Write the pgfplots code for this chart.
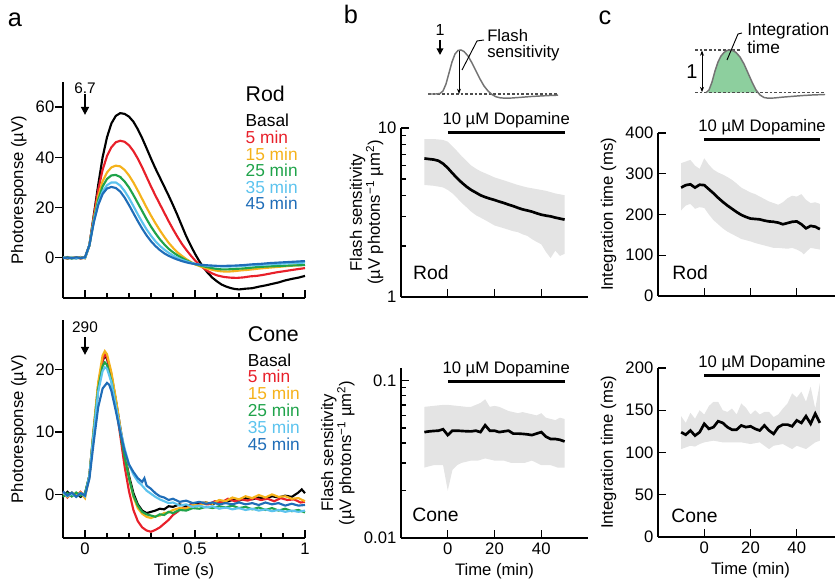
\documentclass[border=0pt]{standalone}
\usepackage{fontspec}
\setmainfont{Liberation Sans}
\usepackage{pgfplots}
\pgfplotsset{compat=1.18}
\usepgfplotslibrary{fillbetween}
\usetikzlibrary{arrows.meta}

\definecolor{cRed}{HTML}{E8202A}
\definecolor{cYel}{HTML}{F5B21B}
\definecolor{cGrn}{HTML}{1FA34A}
\definecolor{cLbl}{HTML}{5CC3EE}
\definecolor{cBlu}{HTML}{1F6DB8}
\definecolor{band}{HTML}{E4E4E4}
\definecolor{fillgrn}{HTML}{8DCF9E}

\pgfplotsset{
  panel/.style={
    scale only axis, anchor=south west, axis lines*=left, clip=false,
    axis line style={line width=1.1pt},
    tick style={line width=1pt, black},
    tick align=inside, major tick length=6pt, minor tick length=3.5pt,
    tick label style={font=\fontsize{12.5}{14}\selectfont},
    label style={font=\fontsize{12.5}{13.5}\selectfont},
    /pgf/number format/assume math mode=true,
  },
  trace/.style={line width=1.6pt},
  mean/.style={line width=2pt, black},
}
\newcommand{\dopa}[2]{%
  \draw[line width=2.2pt] (axis cs:0,#1) -- (axis cs:50,#1);
  \node[anchor=base, inner sep=0pt, yshift=#2, font=\fontsize{12.5}{14}\selectfont]
    at (axis cs:25,#1) {10 µM Dopamine};}
\newcommand{\tag}[3]{\node[anchor=west, inner sep=0pt, font=\fontsize{14.5}{16}\selectfont]
    at (rel axis cs:#1,#2) {#3};}

\begin{document}
\begin{tikzpicture}

% ---------- a, rod
\begin{axis}[panel, at={(47.25pt,211.5pt)}, width=181.5pt, height=162pt,
  xmin=-0.1, xmax=1, ymin=-16, ymax=70,
  xtick={0,0.5,1}, minor xtick={0.1,0.2,0.3,0.4,0.6,0.7,0.8,0.9}, xticklabels={},
  ytick={0,20,40,60}, ytick style={xshift=-6pt}, yticklabel style={xshift=-3pt},
  ylabel={Photoresponse (µV)}]
\addplot[trace, black] coordinates {(-0.1,0.2)(-0.08,-0.3)(-0.06,0.1)(-0.04,-0.2)(-0.02,0.3)(0,-0.1)(0.02,5)(0.04,17)(0.06,29)(0.08,40)(0.10,48)(0.12,53.5)(0.14,56.5)(0.16,57.6)(0.18,57.3)(0.20,56.2)(0.22,54.2)(0.24,51.2)(0.26,47.6)(0.28,43.6)(0.30,39.5)(0.32,35.6)(0.34,32)(0.36,28.4)(0.38,24.8)(0.40,21)(0.42,17)(0.44,12.8)(0.46,8.6)(0.48,5)(0.50,1.6)(0.52,-1.4)(0.54,-4)(0.56,-6.2)(0.58,-8)(0.60,-9.4)(0.62,-10.6)(0.64,-11.4)(0.66,-12)(0.68,-12.4)(0.70,-12.6)(0.73,-12.3)(0.76,-12.1)(0.79,-11.5)(0.82,-11)(0.85,-10.4)(0.88,-9.8)(0.91,-9)(0.94,-8.4)(0.97,-7.9)(1.0,-7.2)};
\addplot[trace, cRed] coordinates {(-0.1,-0.2)(-0.08,0.3)(-0.06,-0.1)(-0.04,0.2)(-0.02,-0.3)(0,0.1)(0.02,5)(0.04,16.5)(0.06,27)(0.08,35)(0.10,40.5)(0.12,44)(0.14,46)(0.16,46.6)(0.18,46.2)(0.20,44.8)(0.22,42.5)(0.24,39.5)(0.26,36)(0.28,32.2)(0.30,28.4)(0.32,24.8)(0.34,21.4)(0.36,18)(0.38,14.6)(0.40,11.4)(0.42,8.4)(0.44,5.6)(0.46,3.2)(0.48,1)(0.50,-1)(0.52,-2.8)(0.54,-4.2)(0.56,-5.4)(0.58,-6.3)(0.60,-7)(0.63,-7.6)(0.66,-7.9)(0.69,-8)(0.72,-7.8)(0.75,-7.4)(0.78,-7.2)(0.81,-6.8)(0.84,-6.3)(0.87,-5.8)(0.90,-5.4)(0.93,-5)(0.96,-4.6)(1.0,-4.1)};
\addplot[trace, cYel] coordinates {(-0.1,0.1)(-0.08,-0.2)(-0.06,0.3)(-0.04,-0.1)(-0.02,0.2)(0,-0.2)(0.02,5)(0.04,15.5)(0.06,24.5)(0.08,30.5)(0.10,34)(0.12,36)(0.14,36.7)(0.16,36.4)(0.18,35)(0.20,32.8)(0.22,30)(0.24,26.8)(0.26,23.4)(0.28,20)(0.30,16.8)(0.32,13.8)(0.34,11)(0.36,8.4)(0.38,6)(0.40,4)(0.42,2.2)(0.44,0.8)(0.46,-0.5)(0.48,-1.6)(0.50,-2.6)(0.53,-3.6)(0.56,-4.4)(0.59,-5)(0.62,-5.4)(0.65,-5.5)(0.68,-5.3)(0.71,-5)(0.74,-4.8)(0.77,-4.5)(0.80,-4.2)(0.84,-3.9)(0.88,-3.6)(0.92,-3.3)(0.96,-3)(1.0,-2.8)};
\addplot[trace, cGrn] coordinates {(-0.1,-0.1)(-0.08,0.2)(-0.06,-0.3)(-0.04,0.1)(-0.02,-0.2)(0,0.1)(0.02,5)(0.04,15)(0.06,23)(0.08,28.4)(0.10,31.4)(0.12,32.8)(0.14,33)(0.16,32.2)(0.18,30.4)(0.20,28)(0.22,25)(0.24,21.8)(0.26,18.6)(0.28,15.4)(0.30,12.4)(0.32,9.8)(0.34,7.4)(0.36,5.4)(0.38,3.6)(0.40,2.2)(0.42,1)(0.44,0)(0.46,-1)(0.48,-1.8)(0.50,-2.5)(0.53,-3.2)(0.56,-3.8)(0.59,-4.3)(0.62,-4.6)(0.65,-4.6)(0.68,-4.4)(0.71,-4.3)(0.74,-4.1)(0.77,-3.8)(0.80,-3.6)(0.84,-3.4)(0.88,-3.3)(0.92,-3.1)(0.96,-3)(1.0,-2.9)};
\addplot[trace, cLbl] coordinates {(-0.1,0.2)(-0.08,-0.1)(-0.06,0.2)(-0.04,-0.3)(-0.02,0.1)(0,-0.1)(0.02,5)(0.04,14.5)(0.06,21.8)(0.08,26.4)(0.10,28.9)(0.12,30)(0.14,30)(0.16,28.8)(0.18,26.6)(0.20,23.8)(0.22,20.6)(0.24,17.3)(0.26,14.2)(0.28,11.3)(0.30,8.8)(0.32,6.6)(0.34,4.8)(0.36,3.3)(0.38,2)(0.40,0.9)(0.42,0)(0.44,-0.8)(0.46,-1.4)(0.48,-2)(0.50,-2.4)(0.53,-2.9)(0.56,-3.2)(0.60,-3.4)(0.64,-3.5)(0.68,-3.4)(0.72,-3.2)(0.76,-3)(0.80,-2.8)(0.84,-2.6)(0.88,-2.4)(0.92,-2.2)(0.96,-2.1)(1.0,-1.9)};
\addplot[trace, cBlu] coordinates {(-0.1,-0.2)(-0.08,0.1)(-0.06,-0.2)(-0.04,0.2)(-0.02,-0.1)(0,0.2)(0.02,5)(0.04,14)(0.06,21)(0.08,25.4)(0.10,27.6)(0.12,28.2)(0.14,27.8)(0.16,26.4)(0.18,24)(0.20,21)(0.22,17.8)(0.24,14.6)(0.26,11.6)(0.28,8.9)(0.30,6.6)(0.32,4.7)(0.34,3.1)(0.36,1.8)(0.38,0.8)(0.40,0)(0.42,-0.7)(0.44,-1.3)(0.46,-1.8)(0.48,-2.2)(0.50,-2.5)(0.53,-2.8)(0.56,-3)(0.60,-3.2)(0.64,-3.2)(0.68,-3.1)(0.72,-2.9)(0.76,-2.6)(0.80,-2.4)(0.84,-2.1)(0.88,-1.9)(0.92,-1.7)(0.96,-1.5)(1.0,-1.3)};
\draw[-{Triangle[length=6pt,width=6pt]}, line width=1.2pt] (axis cs:0,65.2) -- (axis cs:0,56.9);
\node[inner sep=0pt, font=\fontsize{11.5}{12}\selectfont] at (axis cs:0,67.4) {6.7};
\node[anchor=west, inner sep=0pt, font=\fontsize{16}{18}\selectfont] at (axis cs:0.729,65.4) {Rod};
\begin{scope}[every node/.style={anchor=west, inner sep=0pt, font=\fontsize{13}{14}\selectfont}]
\node[black] at (axis cs:0.729,54.6) {Basal};
\node[cRed] at (axis cs:0.729,48.0) {5 min};
\node[cYel] at (axis cs:0.729,41.4) {15 min};
\node[cGrn] at (axis cs:0.729,34.8) {25 min};
\node[cLbl] at (axis cs:0.729,28.2) {35 min};
\node[cBlu] at (axis cs:0.729,21.6) {45 min};
\end{scope}
\end{axis}

% ---------- a, cone
\begin{axis}[panel, at={(47.25pt,31.5pt)}, width=181.5pt, height=163.5pt,
  xmin=-0.1, xmax=1, ymin=-7, ymax=28,
  xtick={0,0.5,1}, minor xtick={0.1,0.2,0.3,0.4,0.6,0.7,0.8,0.9},
  ytick={0,10,20}, ytick style={xshift=-6pt}, yticklabel style={xshift=-3pt},
  xlabel={Time (s)}, ylabel={Photoresponse (µV)}]
\addplot[trace, black] coordinates {(-0.1,-0.3)(-0.08,0.4)(-0.06,-0.3)(-0.04,0.2)(-0.02,-0.4)(0,0.1)(0.02,3)(0.04,10.5)(0.06,17.5)(0.08,21.5)(0.09,22.2)(0.10,21.8)(0.12,19.2)(0.14,15.2)(0.16,10.8)(0.18,6.6)(0.20,3)(0.22,0.2)(0.24,-1.6)(0.26,-2.6)(0.28,-3)(0.30,-2.8)(0.32,-2.6)(0.34,-2.3)(0.36,-2.4)(0.38,-1.9)(0.40,-2)(0.43,-1.6)(0.46,-1.9)(0.49,-1.5)(0.52,-1.4)(0.55,-1.3)(0.58,-1.6)(0.61,-1.0)(0.64,-1.2)(0.67,-0.9)(0.70,-1.0)(0.73,-0.6)(0.76,-0.8)(0.79,-0.5)(0.82,-0.7)(0.85,-0.3)(0.88,-0.5)(0.91,-0.2)(0.94,-0.4)(0.97,0.3)(0.985,0.8)(1.0,0.2)};
\addplot[trace, cRed] coordinates {(-0.1,0.4)(-0.08,-0.5)(-0.06,0.2)(-0.04,-0.3)(-0.02,0.4)(0,-0.3)(0.02,3)(0.04,10)(0.06,17)(0.08,21.5)(0.09,22.5)(0.10,22)(0.12,19)(0.14,14.5)(0.16,9.5)(0.18,4.5)(0.20,0.5)(0.22,-2.5)(0.24,-4.3)(0.26,-5.3)(0.28,-5.8)(0.30,-6)(0.32,-5.7)(0.34,-5.3)(0.36,-4.7)(0.38,-4.1)(0.40,-3.3)(0.42,-2.8)(0.44,-2.2)(0.46,-2.3)(0.48,-1.7)(0.50,-1.9)(0.53,-1.5)(0.56,-1.6)(0.59,-1.1)(0.62,-1.3)(0.65,-0.7)(0.68,-1.1)(0.71,-0.8)(0.74,-1.0)(0.77,-0.6)(0.80,-0.9)(0.83,-0.7)(0.86,-1.1)(0.89,-0.6)(0.92,-0.9)(0.95,-0.8)(0.98,-1.3)(1.0,-1.2)};
\addplot[trace, cYel] coordinates {(-0.1,0.2)(-0.08,-0.4)(-0.06,0.3)(-0.04,-0.2)(-0.02,0.3)(0,-0.6)(0.02,3)(0.04,10.8)(0.06,18)(0.08,22.3)(0.09,23)(0.10,22.5)(0.12,19.6)(0.14,15.4)(0.16,10.8)(0.18,6.4)(0.20,2.6)(0.22,-0.4)(0.24,-2.2)(0.26,-3.1)(0.28,-3.6)(0.30,-3.8)(0.32,-3.5)(0.34,-3.4)(0.36,-3.0)(0.38,-2.9)(0.40,-2.5)(0.43,-2.2)(0.46,-2.3)(0.49,-1.7)(0.52,-1.8)(0.55,-1.3)(0.58,-1.5)(0.61,-0.9)(0.64,-1.1)(0.67,-0.5)(0.70,-0.8)(0.73,-0.3)(0.76,-0.6)(0.79,-0.1)(0.82,-0.5)(0.85,0)(0.88,-0.4)(0.91,-0.3)(0.94,-0.7)(0.97,-0.6)(1.0,-1.1)};
\addplot[trace, cGrn] coordinates {(-0.1,-0.4)(-0.08,0.2)(-0.06,-0.3)(-0.04,0.3)(-0.02,-0.2)(0,0.2)(0.02,3)(0.04,10.2)(0.06,17)(0.08,20.6)(0.09,21.2)(0.10,20.8)(0.12,18.2)(0.14,14.2)(0.16,10)(0.18,6)(0.20,2.6)(0.22,-0.2)(0.24,-1.8)(0.26,-2.8)(0.28,-3.2)(0.30,-3.4)(0.32,-3.6)(0.34,-3.2)(0.36,-3.3)(0.38,-2.8)(0.40,-3)(0.43,-2.5)(0.46,-2.6)(0.49,-2.2)(0.52,-2.3)(0.55,-2.0)(0.58,-2.2)(0.61,-1.9)(0.64,-2.1)(0.67,-1.8)(0.70,-2.2)(0.73,-2.0)(0.76,-2.4)(0.79,-2.1)(0.82,-2.5)(0.85,-2.2)(0.88,-2.6)(0.91,-2.3)(0.94,-2.7)(0.97,-2.5)(1.0,-2.9)};
\addplot[trace, cLbl] coordinates {(-0.1,0.3)(-0.08,-0.3)(-0.06,0.1)(-0.04,-0.4)(-0.02,0.2)(0,-0.3)(0.02,3)(0.04,10)(0.06,16.5)(0.08,19.8)(0.09,20.4)(0.10,20.2)(0.12,18)(0.14,14.2)(0.16,10.5)(0.18,7.4)(0.20,4.8)(0.22,3.2)(0.24,2.1)(0.26,1.4)(0.28,0.6)(0.30,0.1)(0.32,-0.4)(0.34,-0.8)(0.36,-1.1)(0.38,-1.4)(0.40,-1.3)(0.43,-1.8)(0.46,-1.6)(0.49,-2)(0.52,-1.8)(0.55,-2.1)(0.58,-1.9)(0.61,-2.3)(0.64,-2.1)(0.67,-2.4)(0.70,-2.2)(0.73,-2.5)(0.76,-2.3)(0.79,-2.6)(0.82,-2.4)(0.85,-2.7)(0.88,-2.5)(0.91,-2.8)(0.94,-2.6)(0.97,-2.8)(1.0,-2.6)};
\addplot[trace, cBlu] coordinates {(-0.1,0.5)(-0.08,-0.2)(-0.06,0.3)(-0.04,-0.4)(-0.02,0.2)(0,-0.2)(0.02,2.5)(0.04,8.5)(0.06,14)(0.08,17)(0.10,17.9)(0.11,17.6)(0.12,16.6)(0.14,13.4)(0.16,10)(0.18,7)(0.20,4.8)(0.22,3.6)(0.24,2.6)(0.26,2)(0.27,2.6)(0.28,1.4)(0.30,0.9)(0.32,0.2)(0.34,-0.3)(0.36,-0.5)(0.38,-0.9)(0.40,-0.7)(0.43,-1.2)(0.46,-1.0)(0.49,-1.4)(0.52,-1.2)(0.55,-1.5)(0.58,-1.3)(0.61,-1.6)(0.64,-1.4)(0.67,-1.6)(0.70,-1.3)(0.73,-1.6)(0.76,-1.4)(0.79,-1.7)(0.82,-1.3)(0.85,-1.6)(0.88,-1.4)(0.91,-1.8)(0.94,-1.5)(0.97,-1.8)(1.0,-1.7)};
\draw[-{Triangle[length=6pt,width=6pt]}, line width=1.2pt] (axis cs:0,25.2) -- (axis cs:0,22.4);
\node[inner sep=0pt, font=\fontsize{11.5}{12}\selectfont] at (axis cs:0,26.9) {290};
\node[anchor=west, inner sep=0pt, font=\fontsize{16}{18}\selectfont] at (axis cs:0.739,25.8) {Cone};
\begin{scope}[every node/.style={anchor=west, inner sep=0pt, font=\fontsize{13}{14}\selectfont}]
\node[black] at (axis cs:0.739,21.6) {Basal};
\node[cRed] at (axis cs:0.739,18.9) {5 min};
\node[cYel] at (axis cs:0.739,16.2) {15 min};
\node[cGrn] at (axis cs:0.739,13.5) {25 min};
\node[cLbl] at (axis cs:0.739,10.8) {35 min};
\node[cBlu] at (axis cs:0.739,8.1) {45 min};
\end{scope}
\end{axis}

% ---------- b, rod
\begin{axis}[panel, ymode=log, at={(300.75pt,212.25pt)}, width=140.25pt, height=126.75pt,
  xmin=-20, xmax=60, ymin=1, ymax=10,
  xtick={0,20,40}, xticklabels={},
  ytick={1,10}, yticklabels={1,10}, minor ytick={2,3,4,5,6,7,8,9},
  ylabel style={align=center}, ylabel shift=-11pt,
  ylabel={Flash sensitivity\\(µV photons\textsuperscript{−1} µm\textsuperscript{2})}]
\addplot[name path=bru, draw=none] coordinates {(-10,8.6)(-6,8.6)(-2,8.5)(0,8.3)(2,7.8)(4,7.3)(6,6.8)(8,6.4)(10,6.0)(12,5.75)(14,5.55)(16,5.4)(18,5.25)(20,5.1)(23,4.95)(26,4.8)(30,4.6)(34,4.45)(38,4.35)(42,4.25)(46,4.1)(50,4.0)};
\addplot[name path=brl, draw=none] coordinates {(-10,4.6)(-6,4.55)(-2,4.45)(0,4.3)(2,4.1)(4,3.85)(6,3.6)(8,3.4)(10,3.2)(12,3.05)(14,2.95)(16,2.85)(18,2.75)(20,2.65)(22,2.6)(24,2.55)(26,2.5)(28,2.45)(30,2.42)(32,2.35)(34,2.3)(36,2.2)(38,2.12)(40,2.05)(42,1.85)(44,1.7)(46,1.88)(48,1.75)(50,1.8)};
\addplot[band] fill between[of=bru and brl];
\addplot[mean] coordinates {(-10,6.6)(-8,6.55)(-6,6.5)(-4,6.4)(-2,6.15)(0,5.8)(2,5.4)(4,5.05)(6,4.75)(8,4.5)(10,4.3)(12,4.15)(14,4.0)(16,3.9)(18,3.82)(20,3.75)(22,3.67)(24,3.6)(26,3.52)(28,3.45)(30,3.37)(32,3.3)(34,3.25)(36,3.2)(38,3.13)(40,3.07)(42,3.03)(44,3.0)(46,2.95)(48,2.91)(50,2.87)};
\dopa{9.35}{6pt}
\tag{0.064}{0.142}{Rod}
\end{axis}

% ---------- b, cone
\begin{axis}[panel, ymode=log, at={(300.75pt,31.5pt)}, width=140.25pt, height=127.5pt,
  xmin=-20, xmax=60, ymin=0.01, ymax=0.12,
  xtick={0,20,40},
  ytick={0.01,0.1}, yticklabels={0.01,0.1}, minor ytick={0.02,0.03,0.04,0.05,0.06,0.07,0.08,0.09},
  xlabel={Time (min)}, ylabel style={align=center},
  ylabel={Flash sensitivity\\(µV photons\textsuperscript{−1} µm\textsuperscript{2})}]
\addplot[name path=bcu, draw=none] coordinates {(-10,0.068)(-6,0.069)(-2,0.07)(0,0.07)(4,0.069)(8,0.068)(10,0.068)(12,0.07)(14,0.072)(16,0.076)(18,0.068)(20,0.069)(22,0.068)(24,0.066)(26,0.064)(28,0.063)(30,0.062)(32,0.063)(34,0.062)(36,0.061)(38,0.06)(40,0.062)(42,0.058)(44,0.057)(46,0.056)(48,0.058)(50,0.057)};
\addplot[name path=bcl, draw=none] coordinates {(-10,0.028)(-6,0.029)(-2,0.029)(0,0.020)(2,0.027)(4,0.029)(6,0.030)(10,0.031)(13,0.031)(16,0.032)(20,0.031)(24,0.031)(27,0.030)(30,0.030)(33,0.030)(36,0.031)(40,0.029)(44,0.029)(47,0.028)(50,0.028)};
\addplot[band] fill between[of=bcu and bcl];
\addplot[mean] coordinates {(-10,0.047)(-8,0.0475)(-6,0.0478)(-4,0.048)(-2,0.049)(0,0.045)(2,0.048)(4,0.048)(6,0.0478)(8,0.0476)(10,0.0475)(12,0.048)(14,0.047)(16,0.052)(18,0.048)(20,0.048)(22,0.047)(24,0.0475)(26,0.048)(28,0.046)(30,0.046)(32,0.0458)(34,0.0455)(36,0.045)(38,0.046)(40,0.047)(42,0.044)(44,0.0425)(46,0.0425)(48,0.042)(50,0.041)};
\dopa{0.0985}{6pt}
\tag{0.059}{0.135}{Cone}
\end{axis}

% ---------- c, rod
\begin{axis}[panel, at={(493.5pt,213pt)}, width=138.75pt, height=122.25pt,
  xmin=-20, xmax=60, ymin=0, ymax=400,
  xtick={0,20,40}, xticklabels={},
  ytick={0,100,200,300,400},
  ylabel={Integration time (ms)}]
\addplot[name path=cru, draw=none] coordinates {(-10,326)(-8,330)(-6,334)(-4,320)(-2,312)(0,338)(2,322)(4,310)(6,303)(8,298)(10,292)(12,285)(14,276)(16,266)(18,260)(20,254)(22,250)(24,244)(26,238)(28,232)(30,228)(32,224)(34,230)(36,240)(38,246)(40,244)(42,250)(44,236)(46,228)(48,230)(50,226)};
\addplot[name path=crl, draw=none] coordinates {(-10,210)(-8,222)(-6,226)(-4,214)(-2,218)(0,216)(2,200)(4,186)(6,176)(8,166)(10,158)(12,152)(14,146)(16,140)(18,137)(20,134)(22,130)(24,127)(26,124)(28,121)(30,118)(32,118)(34,117)(36,116)(38,118)(40,114)(42,108)(43,102)(44,108)(46,118)(48,116)(50,114)};
\addplot[band] fill between[of=cru and crl];
\addplot[mean] coordinates {(-10,266)(-8,272)(-6,274)(-4,266)(-2,273)(0,272)(2,262)(4,252)(6,241)(8,231)(10,222)(12,214)(14,206)(16,199)(18,194)(20,190)(22,189)(24,188)(26,185)(28,183)(30,182)(32,180)(34,176)(36,179)(38,182)(40,183)(42,176)(44,166)(46,172)(48,170)(50,164)};
\dopa{384.5}{6pt}
\tag{0.076}{0.141}{Rod}
\end{axis}

% ---------- c, cone
\begin{axis}[panel, at={(493.5pt,32.25pt)}, width=138.75pt, height=126.75pt,
  xmin=-20, xmax=60, ymin=0, ymax=200,
  xtick={0,20,40},
  ytick={0,50,100,150,200},
  xlabel={Time (min)}, ylabel={Integration time (ms)}]
\addplot[name path=ccu, draw=none] coordinates {(-10,143)(-8,135)(-6,147)(-4,140)(-2,150)(0,145)(2,155)(4,160)(6,160)(8,150)(10,148)(12,152)(14,145)(16,158)(18,153)(20,145)(22,150)(24,145)(26,148)(28,148)(30,142)(32,145)(34,152)(36,158)(38,170)(40,165)(42,172)(44,160)(46,178)(48,152)(50,182)};
\addplot[name path=ccl, draw=none] coordinates {(-10,104)(-8,106)(-6,108)(-4,107)(-2,110)(0,112)(4,114)(8,112)(12,112)(16,112)(20,110)(24,112)(26,108)(28,104)(30,108)(34,110)(36,107)(38,104)(40,108)(42,106)(44,104)(46,108)(48,112)(50,114)};
\addplot[band] fill between[of=ccu and ccl];
\addplot[mean] coordinates {(-10,124)(-8,121)(-6,126)(-4,120)(-2,124)(0,134)(2,128)(4,130)(6,137)(8,135)(10,130)(12,127)(14,127)(16,132)(18,130)(20,131)(22,128)(24,126)(26,132)(28,126)(30,122)(32,130)(34,133)(36,133)(38,131)(40,138)(42,135)(44,143)(46,134)(48,146)(50,135)};
\dopa{191}{6pt}
\tag{0.071}{0.124}{Cone}
\end{axis}

% ---------- insets and panel letters, in pixel units
\begin{axis}[at={(0pt,0pt)}, anchor=south west, scale only axis,
  width=626.25pt, height=435pt, xmin=0, xmax=835, ymin=0, ymax=580,
  y dir=reverse, hide axis, clip=false]
% b inset
\addplot[line width=0.8pt, black!70, dash pattern=on 2pt off 1.5pt] coordinates {(428,94)(558,94)};
\addplot[line width=1.1pt, black!55] coordinates {(428,94)(436,94)(440,93.5)(443,91)(446,84)(449,73)(452,62)(455,54)(458,50.5)(461,50)(464,51.5)(468,56)(472,63)(476,71)(480,79)(484,86)(488,91)(492,94.5)(496,96.8)(500,97.8)(505,98.2)(512,98)(520,97.4)(530,96.6)(540,96)(550,95.5)(558,95.2)};
\draw[-{Stealth[length=4pt,width=3pt]}, line width=0.7pt] (axis cs:459,51) -- (axis cs:459,94);
\draw[line width=0.7pt] (axis cs:484,40) -- (axis cs:477,41) -- (axis cs:462,70);
\draw[-{Triangle[length=5pt,width=5pt]}, line width=1.1pt] (axis cs:440,40) -- (axis cs:440,55);
\node[inner sep=0pt, font=\fontsize{12}{13}\selectfont] at (axis cs:440,30) {1};
\node[anchor=north west, align=left, inner sep=0pt, font=\fontsize{12.5}{12}\selectfont] at (axis cs:487,29.5) {Flash\\sensitivity};
% c inset
\addplot[fill=fillgrn, draw=none] coordinates {(708,92.7)(709,90)(712,82)(715,71)(718,62)(721,56)(724,52.5)(727,50.5)(730,50)(733,50.7)(736,52.5)(740,57)(744,64)(748,73)(752,82)(756,90)(757,92.7)} -- cycle;
\addplot[line width=0.8pt, black!70, dash pattern=on 2pt off 1.5pt] coordinates {(695,50)(740,50)};
\addplot[line width=0.8pt, black!70, dash pattern=on 2pt off 1.5pt] coordinates {(695,92.7)(825,92.7)};
\addplot[line width=1.1pt, black!55] coordinates {(706,92.7)(709,90)(712,82)(715,71)(718,62)(721,56)(724,52.5)(727,50.5)(730,50)(733,50.7)(736,52.5)(740,57)(744,64)(748,73)(752,82)(756,90)(760,95)(764,97.5)(768,98.2)(774,98)(782,97.2)(792,96.4)(802,95.6)(812,95)(825,94.5)};
\draw[{Stealth[length=4pt,width=3pt]}-{Stealth[length=4pt,width=3pt]}, line width=0.7pt] (axis cs:702,50.5) -- (axis cs:702,92.2);
\node[inner sep=0pt, font=\fontsize{15}{16}\selectfont] at (axis cs:692,72) {1};
\draw[line width=0.7pt] (axis cs:742,33) -- (axis cs:738,34) -- (axis cs:727,60);
\node[anchor=north west, align=left, inner sep=0pt, font=\fontsize{13}{12}\selectfont] at (axis cs:747,23) {Integration\\time};
% letters
\node[inner sep=0pt, font=\fontsize{19}{20}\selectfont] at (axis cs:15,20) {a};
\node[inner sep=0pt, font=\fontsize{19}{20}\selectfont] at (axis cs:351,14) {b};
\node[inner sep=0pt, font=\fontsize{19}{20}\selectfont] at (axis cs:605,18) {c};
\end{axis}

\pgfresetboundingbox
\path[use as bounding box] (0pt,0pt) rectangle (626.25pt,435pt);
\end{tikzpicture}
\end{document}
